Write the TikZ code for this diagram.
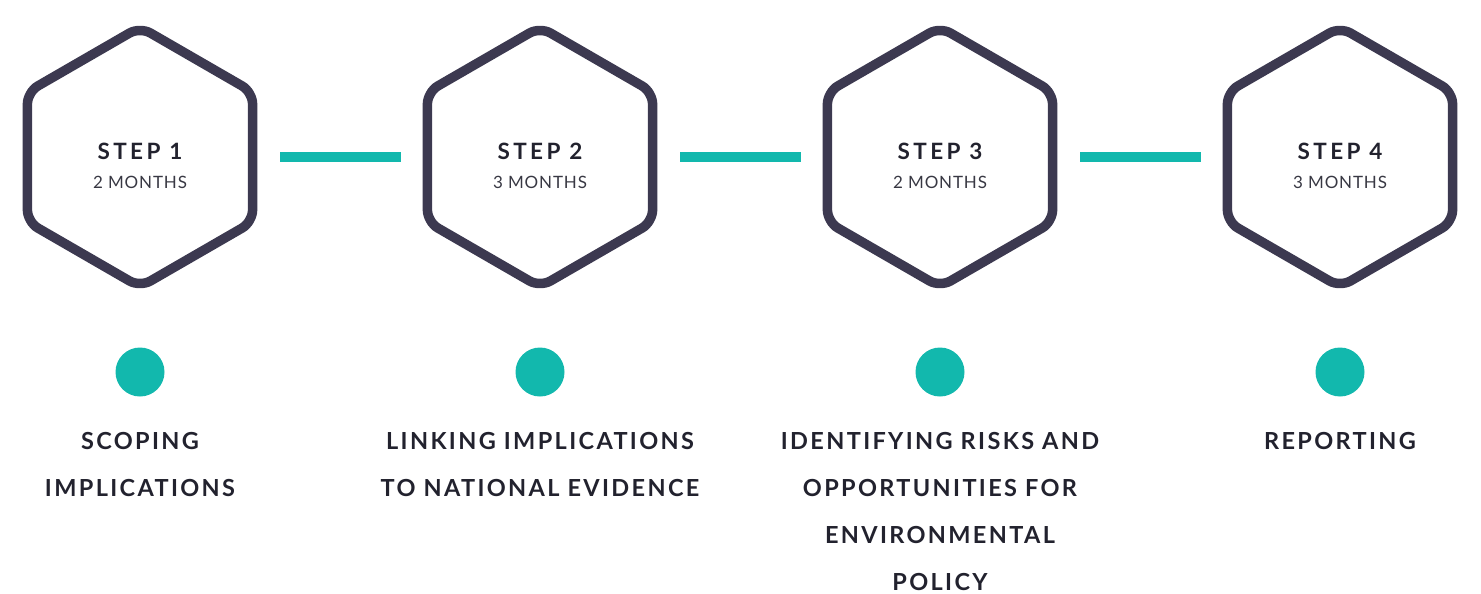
\documentclass[tikz,border=0pt]{standalone}
\usepackage{fontspec}
\setmainfont{Lato}
\newfontfamily\labfont[LetterSpace=10]{Lato}
\newfontfamily\stepfont[LetterSpace=15]{Lato}
\newfontfamily\monfont[LetterSpace=5]{Lato}
\usetikzlibrary{shapes.geometric}
\definecolor{hexline}{HTML}{3C3950}
\definecolor{teal}{HTML}{12B8AD}
\definecolor{ink}{HTML}{22222E}
\begin{document}
\begin{tikzpicture}[x=1pt,y=-1pt,
  hexbox/.style={regular polygon, regular polygon sides=6, shape border rotate=30,
    minimum size=260pt, inner sep=0pt, draw=hexline, line width=9.5pt, rounded corners=12pt},
  bar/.style={draw=teal, line width=10pt},
  dot/.style={circle, fill=teal, minimum size=49pt, inner sep=0pt},
  steptxt/.style={anchor=base, text=ink, font=\stepfont\bfseries\fontsize{22.5}{26}\selectfont},
  montxt/.style={anchor=base, text=ink!90, font=\monfont\fontsize{17}{20}\selectfont},
  labtxt/.style={anchor=base, text=ink, align=center, font=\labfont\bfseries\fontsize{23.5}{47}\selectfont}
]
\useasboundingbox (0,0) rectangle (1481,594);
\foreach \i/\x/\m in {1/140/2,2/540/3,3/940/2,4/1340/3}{
  \node[hexbox] (h\i) at (\x,157) {};
  \node[steptxt] (s\i) at (\x,159) {STEP \i};
  \node[montxt] (m\i) at (\x,188) {\m\ MONTHS};
  \node[dot] (d\i) at (\x,372) {};
}
\draw[bar] ([xshift=140pt]h1.center) -- ([xshift=-139pt]h2.center);
\draw[bar] ([xshift=140pt]h2.center) -- ([xshift=-139pt]h3.center);
\draw[bar] ([xshift=140pt]h3.center) -- ([xshift=-139pt]h4.center);
\node[labtxt] (l1) at (140,496) {SCOPING\\IMPLICATIONS};
\node[labtxt] (l2) at (540,496) {LINKING IMPLICATIONS\\TO NATIONAL EVIDENCE};
\node[labtxt] (l3) at (940,590) {IDENTIFYING RISKS AND\\OPPORTUNITIES FOR\\ENVIRONMENTAL\\POLICY};
\node[labtxt] (l4) at (1340,449) {REPORTING};
\end{tikzpicture}
\end{document}
